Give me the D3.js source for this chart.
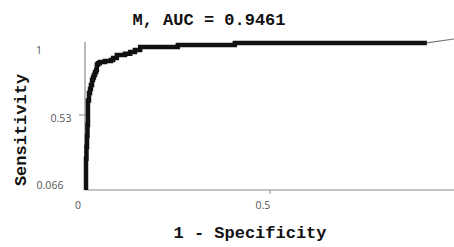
<!DOCTYPE html>
<html>
<head>
<meta charset="utf-8">
<script src="https://cdn.jsdelivr.net/npm/d3@7"></script>
<style>
  html, body { margin: 0; padding: 0; background: #fff; }
  svg { display: block; }
</style>
</head>
<body>
<script>
// ---- data ----
const titleText = "M, AUC = 0.9461";
const xLabelText = "1 - Specificity";
const yLabelText = "Sensitivity";

const mainFPR = [0.0027,0.0027,0.0040,0.0054,0.0067,0.008,0.008,0.0108,0.0135,0.016,0.019,0.0216,0.024,0.027,0.030,0.032,0.035,0.040,0.046,0.054,0.062,0.070,0.076,0.086,0.095,0.108,0.122,0.135,0.149,0.157,0.251,0.257,0.405,0.411,0.924];
const mainTPR = [0.066,0.190,0.260,0.332,0.400,0.468,0.573,0.620,0.666,0.690,0.716,0.747,0.762,0.778,0.795,0.809,0.840,0.850,0.858,0.858,0.864,0.864,0.870,0.883,0.901,0.901,0.908,0.920,0.932,0.951,0.951,0.963,0.963,0.976,0.976];
const tailFPR = [0.924, 0.997];
const tailTPR = [0.976, 1.0];

const xTicks = [0, 0.5];
const xTickLabels = ["0", "0.5"];
const yTicks = [0.066, 0.53, 1];
const yTickLabels = ["0.066", "0.53", "1"];

// ---- layout ----
const W = 454, H = 247;
const svg = d3.select("body").append("svg").attr("width", W).attr("height", H);

const x = d3.scaleLinear().domain([0, 1]).range([85, 455]);
const y = d3.scaleLinear().domain([0.066, 1]).range([190, 39]);

const axisColor = "#8a8a8a";
const tickTextColor = "#555";

// axis lines
svg.append("line").attr("x1", x(0)).attr("x2", W).attr("y1", y(0.066)).attr("y2", y(0.066))
  .attr("stroke", axisColor).attr("stroke-width", 1.2);
svg.append("line").attr("x1", x(0)).attr("x2", x(0)).attr("y1", y(0.066)).attr("y2", y(0.982))
  .attr("stroke", axisColor).attr("stroke-width", 1.2);

// tick marks
svg.append("line").attr("x1", x(0.5)).attr("x2", x(0.5)).attr("y1", y(0.066)).attr("y2", y(0.066) + 4)
  .attr("stroke", axisColor).attr("stroke-width", 1);
svg.append("line").attr("x1", x(0) - 6).attr("x2", x(0)).attr("y1", y(0.53)).attr("y2", y(0.53))
  .attr("stroke", axisColor).attr("stroke-width", 1);

// tick labels
const tickFont = "'Open Sans', 'Noto Sans', sans-serif";
const xLabelNudge = [-7, -7];
svg.selectAll("text.xt").data(xTicks).enter().append("text")
  .attr("class", "xt")
  .attr("x", (d, i) => x(d) + xLabelNudge[i])
  .attr("y", y(0.066) + 19)
  .attr("text-anchor", "middle")
  .attr("font-family", tickFont).attr("font-size", 10.5).attr("fill", tickTextColor)
  .text((d, i) => xTickLabels[i]);

const yLabelDx = [50, 61, 39];
const yLabelDy = [-5, 3, 11];
svg.selectAll("text.yt").data(yTicks).enter().append("text")
  .attr("class", "yt")
  .attr("x", (d, i) => yLabelDx[i])
  .attr("y", (d, i) => y(d) + yLabelDy[i])
  .attr("dy", "0.35em")
  .attr("text-anchor", "middle")
  .attr("font-family", tickFont).attr("font-size", 10.5).attr("fill", tickTextColor)
  .text((d, i) => yTickLabels[i]);

// curves
const mainPts = mainFPR.map((v, i) => [v, mainTPR[i]]);
const tailPts = tailFPR.map((v, i) => [v, tailTPR[i]]);
const tailLine = d3.line().x(d => x(d[0])).y(d => y(d[1]));
const stepLine = d3.line().x(d => x(d[0])).y(d => y(d[1])).curve(d3.curveStepBefore);

svg.append("path").datum(tailPts).attr("d", tailLine)
  .attr("fill", "none").attr("stroke", "#777").attr("stroke-width", 1.2);
svg.append("path").datum(mainPts).attr("d", stepLine)
  .attr("fill", "none").attr("stroke", "#111").attr("stroke-width", 4.5)
  .attr("stroke-linejoin", "miter").attr("stroke-linecap", "butt");

// titles
const monoFont = "'Liberation Mono', 'Courier New', monospace";
svg.append("text").attr("x", 209).attr("y", 25).attr("text-anchor", "middle")
  .attr("font-family", monoFont).attr("font-weight", "bold").attr("font-size", 17).attr("fill", "#111")
  .text(titleText);
svg.append("text").attr("x", 250).attr("y", 238).attr("text-anchor", "middle")
  .attr("font-family", monoFont).attr("font-weight", "bold").attr("font-size", 17).attr("fill", "#111")
  .text(xLabelText);
svg.append("text").attr("transform", "translate(26,130) rotate(-90)").attr("text-anchor", "middle")
  .attr("font-family", monoFont).attr("font-weight", "bold").attr("font-size", 17).attr("fill", "#111")
  .text(yLabelText);
</script>
</body>
</html>
